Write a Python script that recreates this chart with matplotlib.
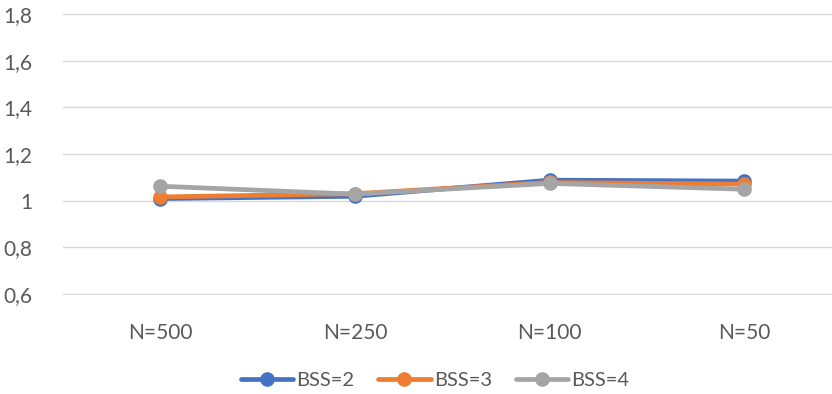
import matplotlib.pyplot as plt
from matplotlib.ticker import FuncFormatter

categories = ['N=500', 'N=250', 'N=100', 'N=50']
bss2 = [1.009, 1.019, 1.088, 1.084]
bss3 = [1.016, 1.030, 1.078, 1.071]
bss4 = [1.062, 1.028, 1.074, 1.049]

series = [
    ('BSS=2', bss2, '#4472C4'),
    ('BSS=3', bss3, '#ED7D31'),
    ('BSS=4', bss4, '#A5A5A5'),
]

plt.rcParams['font.family'] = ['Lato', 'DejaVu Sans']
text_color = '#595959'

fig = plt.figure(figsize=(8.32, 3.94), dpi=100)
ax = fig.add_axes([63 / 832, 1 - 295 / 394, (832 - 63) / 832, 282 / 394])

x = range(len(categories))
for label, vals, color in series:
    ax.plot(x, vals, color=color, linewidth=3.4, marker='o', markersize=9.5,
            label=label, solid_capstyle='round')

ax.set_xlim(-0.5, 3.45)
ax.set_ylim(0.596, 1.804)
ax.set_yticks([0.6, 0.8, 1.0, 1.2, 1.4, 1.6, 1.8])
ax.yaxis.set_major_formatter(FuncFormatter(
    lambda v, _: ('%g' % round(v, 1)).replace('.', ',')))
ax.set_xticks(list(x))
ax.set_xticklabels(categories)

ax.grid(axis='y', color='#D9D9D9', linewidth=1)
ax.set_axisbelow(True)
for side in ax.spines.values():
    side.set_visible(False)
ax.tick_params(axis='both', length=0, labelsize=15, colors=text_color)
ax.tick_params(axis='x', pad=20)
ax.tick_params(axis='y', pad=22)

leg = fig.legend(loc='center', bbox_to_anchor=(435 / 832, 1 - 380 / 394),
                 ncol=3, frameon=False, fontsize=14.5, handlelength=2.6,
                 handletextpad=0.15, columnspacing=1.2)
for t in leg.get_texts():
    t.set_color(text_color)

fig.savefig('out.png', dpi=100)
